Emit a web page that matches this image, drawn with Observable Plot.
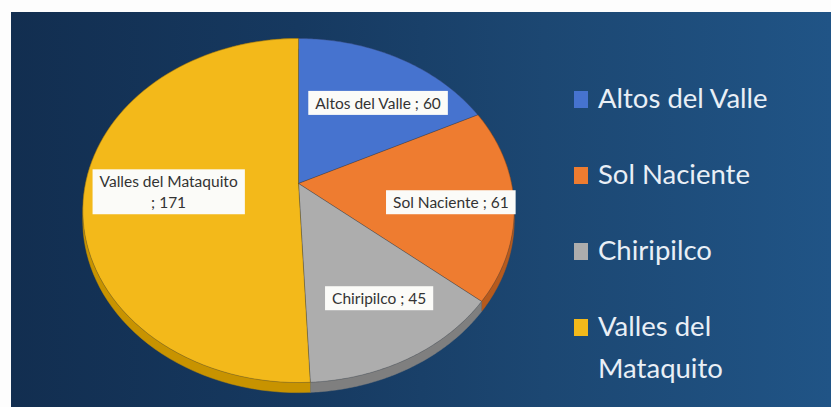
<!DOCTYPE html>
<html>
<head>
<meta charset="utf-8">
<script src="https://cdn.jsdelivr.net/npm/d3@7"></script>
<script src="https://cdn.jsdelivr.net/npm/@observablehq/plot@0.6"></script>
<style>
  html, body { margin: 0; padding: 0; background: #ffffff; }
  #frame { position: relative; width: 831px; height: 407px; overflow: hidden; background: #fdfdfd; }
  #bg { position: absolute; left: 11px; top: 12px; right: 0; bottom: 0;
        background: linear-gradient(90deg, #122e50 0%, #163960 35%, #1c4772 65%, #205486 100%); }
  #chart { position: absolute; left: 0; top: 0; }
  #legend { position: absolute; left: 574px; top: 77px; font-family: Lato, "Open Sans", sans-serif;
            color: #e9eff6; font-size: 27.5px; }
  .item { display: flex; align-items: flex-start; height: 76px; }
  .sw { width: 14px; height: 17px; margin-top: 14px; margin-right: 10px; flex: none; }
  .lab { line-height: 42px; width: 190px; }
</style>
</head>
<body>
<div id="frame">
  <div id="bg"></div>
  <div id="chart"></div>
  <div id="legend"></div>
</div>
<script>
// ---- data ----
const categories = ["Altos del Valle", "Sol Naciente", "Chiripilco", "Valles del Mataquito"];
const values = [60, 61, 45, 171];
const labelTexts = ["Altos del Valle ; 60", "Sol Naciente ; 61", "Chiripilco ; 45", "Valles del Mataquito\n; 171"];

// ---- styles ----
const topColors = ["#4673cf", "#ee7c30", "#adadad", "#f3b91a"];
const sideColors = ["#2f559e", "#b65a1d", "#7f7f7f", "#c89300"];

// perspective of the tilted disc
const p = 0.157;
const depth = 0.06;
function proj(r, theta) {
  const u = r * Math.sin(theta), v = -r * Math.cos(theta);
  const w = 1 - p * v;
  return {x: u / w, y: v / w};
}

const total = d3.sum(values);
let acc = 0;
const slices = categories.map((name, i) => {
  const a0 = acc / total * 2 * Math.PI;
  acc += values[i];
  const a1 = acc / total * 2 * Math.PI;
  return {name, i, a0, a1, mid: (a0 + a1) / 2};
});

function arc(s, n = 80) {
  const pts = [];
  for (let k = 0; k <= n; k++) {
    const t = s.a0 + (s.a1 - s.a0) * k / n;
    pts.push(proj(1, t));
  }
  return pts;
}

const marks = [];
// side walls (extruded rim)
for (const s of slices) {
  const a = arc(s);
  const side = a.concat(a.slice().reverse().map(q => ({x: q.x, y: q.y + depth})));
  marks.push(Plot.line(side, {x: "x", y: "y", fill: sideColors[s.i], stroke: sideColors[s.i], strokeWidth: 0.5, curve: "linear"}));
}
// top faces
for (const s of slices) {
  const poly = [{x: 0, y: 0}, ...arc(s), {x: 0, y: 0}];
  marks.push(Plot.line(poly, {x: "x", y: "y", fill: topColors[s.i], stroke: "#2b2b2b", strokeWidth: 0.6, strokeOpacity: 0.45, curve: "linear"}));
}
// data labels
const labels = slices.map(s => ({...proj(0.66, s.mid), text: labelTexts[s.i]}));
marks.push(Plot.text(labels, {x: "x", y: "y", text: "text", dx: 11, dy: 5, fontSize: 15.5, lineHeight: 1.35,
  fill: "#333333", fontFamily: "Lato, 'Open Sans', sans-serif"}));

const chart = Plot.plot({
  width: 831,
  height: 407,
  margin: 0,
  style: {background: "transparent", overflow: "visible"},
  x: {type: "linear", domain: [0, 1], range: [298, 298 + 213], axis: null},
  y: {type: "linear", domain: [0, 1], range: [183, 183 + 167.8], axis: null},
  marks
});
document.getElementById("chart").appendChild(chart);

// white boxes behind the data labels
const svg = d3.select(chart);
svg.selectAll('g[aria-label="text"] text').each(function() {
  const b = this.getBBox();
  const tr = d3.select(this).attr("transform");
  d3.select(this.parentNode).insert("rect", () => this)
    .attr("x", b.x - 7).attr("y", b.y - 3)
    .attr("width", b.width + 14).attr("height", b.height + 6)
    .attr("transform", tr)
    .attr("fill", "#fbfbf8");
});

// legend
const legend = d3.select("#legend");
categories.forEach((c, i) => {
  const it = legend.append("div").attr("class", "item");
  it.append("div").attr("class", "sw").style("background", topColors[i]);
  it.append("div").attr("class", "lab").text(c);
});
</script>
</body>
</html>
